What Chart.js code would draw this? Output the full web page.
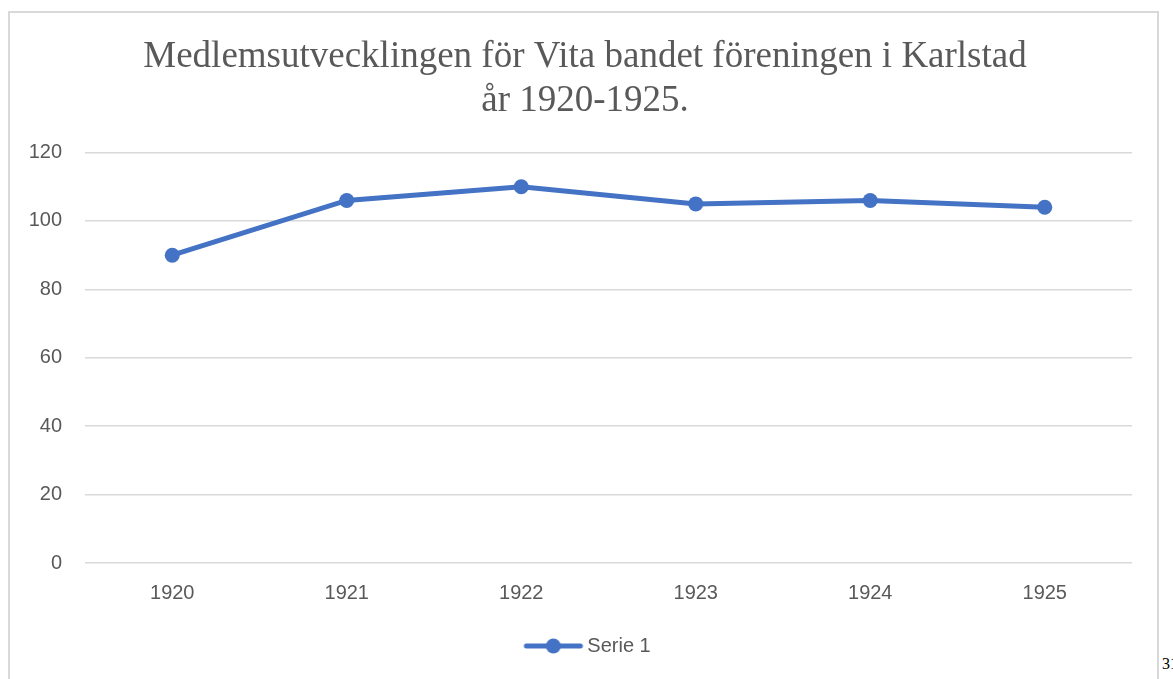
<!DOCTYPE html>
<html>
<head>
<meta charset="utf-8">
<script src="https://cdn.jsdelivr.net/npm/chart.js@4"></script>
<style>
  html, body { margin: 0; padding: 0; background: #fff; }
  body { width: 1173px; height: 679px; overflow: hidden; position: relative; }
  #frame {
    position: absolute; left: 8px; top: 11px; width: 1151px; height: 700px;
    border: 2px solid #d9d9d9; box-sizing: border-box;
  }
  #wrap { position: absolute; left: 10px; top: 14px; width: 1150px; height: 660px; }
  #pageNo {
    position: absolute; left: 1162px; top: 655px;
    font: 16px "Liberation Serif", serif; color: #000;
  }
</style>
</head>
<body>
<div id="frame"></div>
<div id="wrap"><canvas id="chart"></canvas></div>
<div id="pageNo">31</div>
<script>
// data
const years = ["1920", "1921", "1922", "1923", "1924", "1925"];
const members = [90, 106, 110, 105, 106, 104];
const titleLines = ["Medlemsutvecklingen för Vita bandet föreningen i Karlstad", "år 1920-1925."];

const blue = "#4472C4";
const grey = "#595959";
const tickFont = { family: "'Liberation Sans', Arial, sans-serif", size: 20 };

// legend marker: line with a dot, like the Office style
// (canvas wider than the legend box so the line ends close to the text)
function legendMarker() {
  const c = document.createElement("canvas");
  c.width = 72; c.height = 18;
  const g = c.getContext("2d");
  g.strokeStyle = blue;
  g.lineWidth = 5;
  g.lineCap = "round";
  g.beginPath();
  g.moveTo(14, 9); g.lineTo(68, 9);
  g.stroke();
  g.fillStyle = blue;
  g.beginPath();
  g.arc(41, 9, 7.5, 0, Math.PI * 2);
  g.fill();
  return c;
}

const ctx = document.getElementById("chart").getContext("2d");

new Chart(ctx, {
  type: "line",
  data: {
    labels: years,
    datasets: [{
      label: "Serie 1",
      data: members,
      borderColor: blue,
      backgroundColor: blue,
      borderWidth: 5,
      pointRadius: 7.5,
      pointBackgroundColor: blue,
      pointBorderWidth: 0,
      pointStyle: "circle",
      tension: 0
    }]
  },
  options: {
    responsive: true,
    maintainAspectRatio: false,
    animation: false,
    layout: { padding: { left: 0, right: 0, top: 0, bottom: 8 } },
    plugins: {
      title: {
        display: true,
        text: titleLines,
        color: grey,
        font: { family: "'Liberation Serif', 'Times New Roman', serif", size: 37, weight: "normal", lineHeight: 1.17 },
        padding: { top: 22, bottom: 30 }
      },
      legend: {
        position: "bottom",
        labels: {
          usePointStyle: true,
          pointStyle: legendMarker(),
          pointStyleWidth: 58,
          color: grey,
          font: tickFont,
          padding: 10
        }
      },
      tooltip: { enabled: false }
    },
    scales: {
      x: {
        offset: true,
        grid: { display: false },
        border: { display: false },
        ticks: { color: grey, font: tickFont, padding: 10 },
        afterFit: (scale) => { scale.height = 63; }
      },
      y: {
        min: 0,
        max: 120,
        ticks: { stepSize: 20, color: grey, font: tickFont, padding: 23 },
        grid: { color: "#d9d9d9", lineWidth: 1.5, drawTicks: false },
        border: { display: false },
        afterFit: (scale) => { scale.width = 75; }
      },
      // empty right-hand gutter so title and legend stay centred on the frame
      yRight: {
        position: "right",
        grid: { display: false },
        border: { display: false },
        ticks: { display: false },
        afterFit: (scale) => { scale.width = 28; }
      }
    }
  }
});
</script>
</body>
</html>
